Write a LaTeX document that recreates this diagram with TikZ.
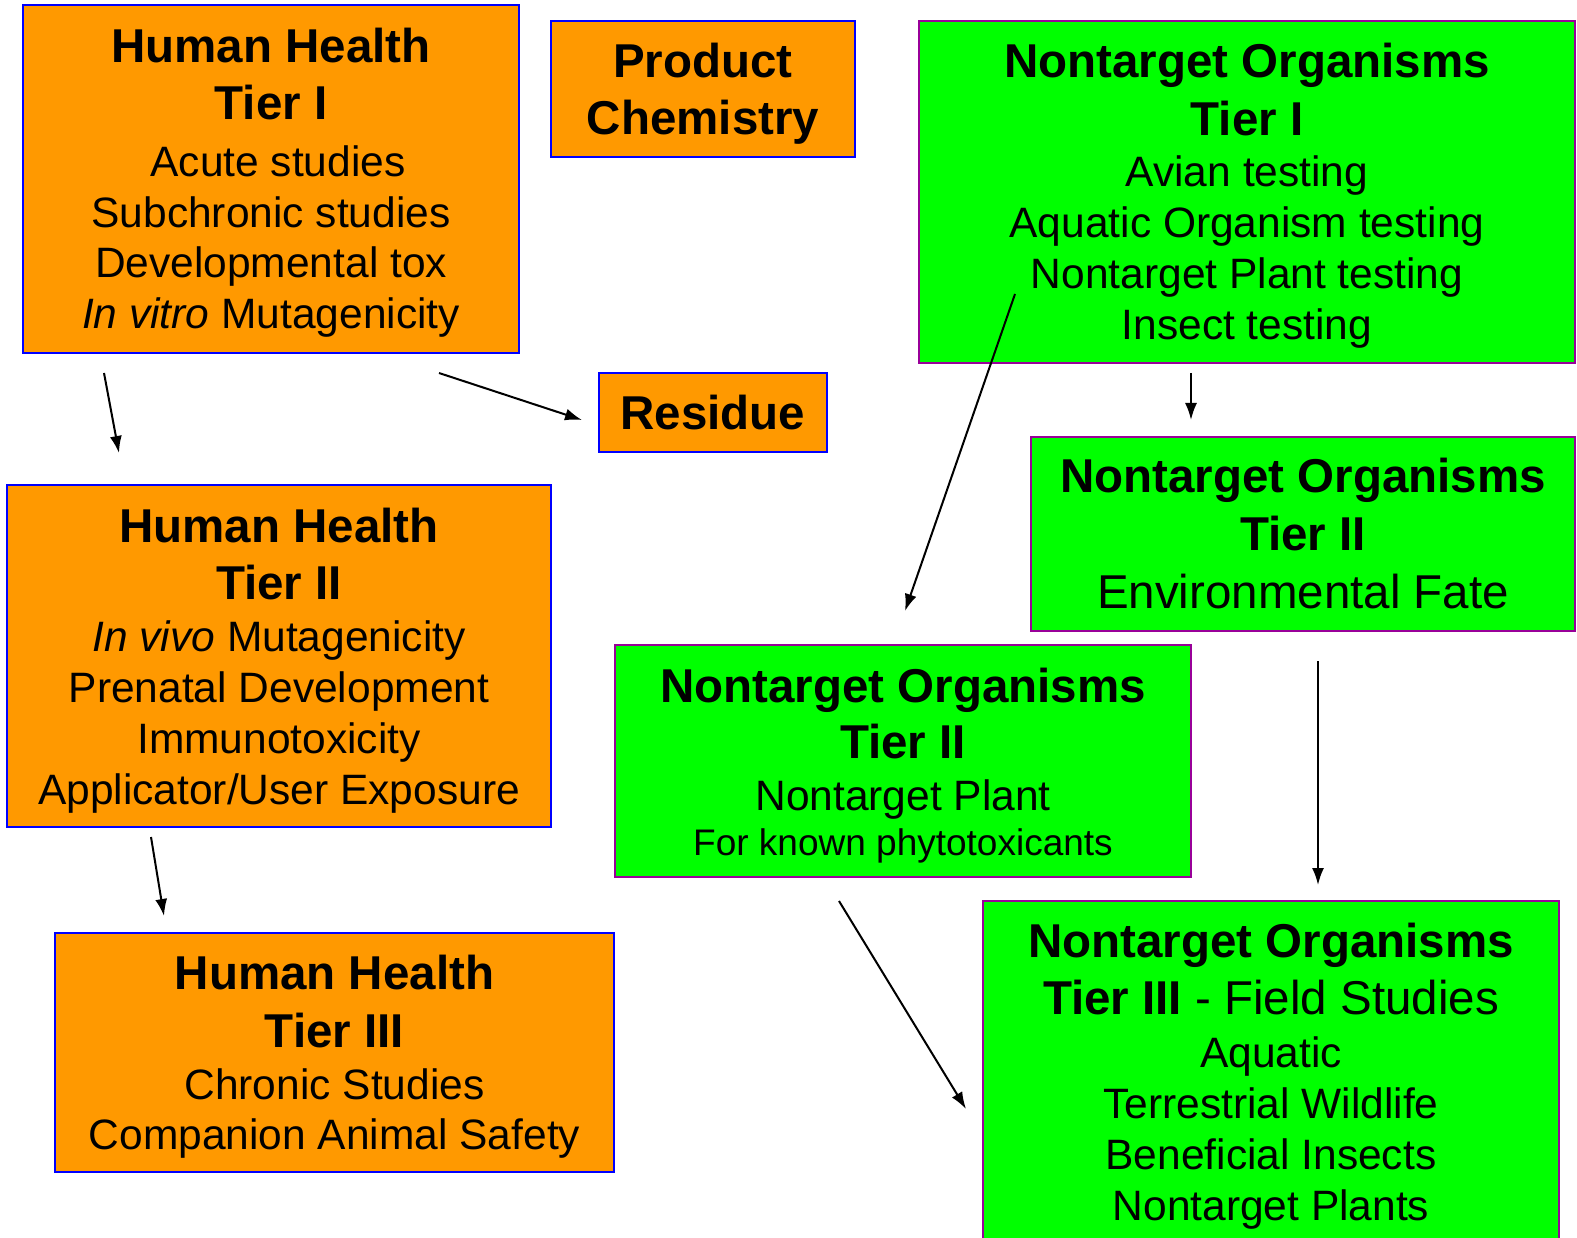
\documentclass[tikz,border=0pt]{standalone}
\usepackage{fontspec}
\setmainfont{Liberation Sans}
\usetikzlibrary{arrows.meta}
\definecolor{orng}{HTML}{FF9900}
\definecolor{grn}{HTML}{00FF00}
\definecolor{purp}{HTML}{990099}
\tikzset{
  obox/.style={draw=blue, fill=orng, line width=2pt, inner sep=0pt},
  gbox/.style={draw=purp, fill=grn, line width=2pt, inner sep=0pt},
  tl/.style={anchor=base, inner sep=0pt, font=\fontsize{47.5}{57}\selectfont\bfseries},
  bl/.style={anchor=base, inner sep=0pt, font=\fontsize{42.5}{51}\selectfont},
  sl/.style={anchor=base, inner sep=0pt, font=\fontsize{37}{45}\selectfont},
  arr/.style={-{Latex[length=17pt,width=12pt]}, line width=2pt}
}
\begin{document}
\begin{tikzpicture}[x=1pt,y=-1pt]
\useasboundingbox (0,0) rectangle (1577,1238);
% boxes
\node[obox, minimum width=496pt, minimum height=348pt] (hh1) at (271,179) {};
\node[obox, minimum width=304pt, minimum height=136pt] (pc) at (703,89) {};
\node[obox, minimum width=228pt, minimum height=79pt] (res) at (713,412.5) {};
\node[gbox, minimum width=656pt, minimum height=342pt] (nto1) at (1247,192) {};
\node[obox, minimum width=544pt, minimum height=342pt] (hh2) at (279,656) {};
\node[gbox, minimum width=544pt, minimum height=194pt] (nto2e) at (1303,534) {};
\node[gbox, minimum width=576pt, minimum height=232pt] (nto2p) at (903,761) {};
\node[obox, minimum width=559pt, minimum height=239pt] (hh3) at (334.5,1052.5) {};
\node[gbox, minimum width=576pt, minimum height=344pt] (nto3) at (1271,1073) {};
% Human Health Tier I
\node[tl] (hh1a) at (271,63) {Human Health};
\node[tl] (hh1b) at (271,120) {Tier I};
\node[bl] (hh1c) at (278,177) {Acute studies};
\node[bl] (hh1d) at (271,228) {Subchronic studies};
\node[bl] (hh1e) at (271,278) {Developmental tox};
\node[bl] (hh1f) at (271,329) {\textit{In vitro} Mutagenicity};
% Product Chemistry
\node[tl] (pca) at (703,78) {Product};
\node[tl] (pcb) at (703,135) {Chemistry};
% Residue
\node[tl] (resa) at (713,429) {Residue};
% Nontarget Tier I
\node[tl] (n1a) at (1247,78) {Nontarget Organisms};
\node[tl] (n1b) at (1247,136) {Tier I};
\node[bl] (n1c) at (1247,187) {Avian testing};
\node[bl] (n1d) at (1247,238) {Aquatic Organism testing};
\node[bl] (n1e) at (1247,289) {Nontarget Plant testing};
\node[bl] (n1f) at (1247,340) {Insect testing};
% Human Health Tier II
\node[tl] (hh2a) at (279,542) {Human Health};
\node[tl] (hh2b) at (279,599) {Tier II};
\node[bl] (hh2c) at (279,651) {\textit{In vivo} Mutagenicity};
\node[bl] (hh2d) at (279,702) {Prenatal Development};
\node[bl] (hh2e) at (279,753) {Immunotoxicity};
\node[bl] (hh2f) at (279,804) {Applicator/User Exposure};
% Nontarget Tier II env
\node[tl] (n2ea) at (1303,492) {Nontarget Organisms};
\node[tl] (n2eb) at (1303,550) {Tier II};
\node[tl, font=\fontsize{47.5}{57}\selectfont] (n2ec) at (1303,608) {Environmental Fate};
% Nontarget Tier II plant
\node[tl] (n2pa) at (903,702) {Nontarget Organisms};
\node[tl] (n2pb) at (903,758) {Tier II};
\node[bl] (n2pc) at (903,810) {Nontarget Plant};
\node[sl] (n2pd) at (903,855) {For known phytotoxicants};
% Human Health Tier III
\node[tl] (hh3a) at (334.5,989) {Human Health};
\node[tl] (hh3b) at (334.5,1047) {Tier III};
\node[bl] (hh3c) at (334.5,1099) {Chronic Studies};
\node[bl] (hh3d) at (334.5,1149) {Companion Animal Safety};
% Nontarget Tier III
\node[tl] (n3a) at (1271,957) {Nontarget Organisms};
\node[tl] (n3b) at (1271,1014) {Tier III\mdseries{} - Field Studies};
\node[bl] (n3c) at (1271,1067) {Aquatic};
\node[bl] (n3d) at (1271,1118) {Terrestrial Wildlife};
\node[bl] (n3e) at (1271,1169) {Beneficial Insects};
\node[bl] (n3f) at (1271,1220) {Nontarget Plants};
% arrow end points
\coordinate (a1s) at (104,373); \coordinate (a1e) at (119,453);
\coordinate (a2s) at (439,373); \coordinate (a2e) at (582,420);
\coordinate (a3s) at (1015,294); \coordinate (a3e) at (905,611);
\coordinate (a4s) at (1191,373); \coordinate (a4e) at (1191,420);
\coordinate (a5s) at (151,837); \coordinate (a5e) at (164,916);
\coordinate (a6s) at (1318,661); \coordinate (a6e) at (1318,885);
\coordinate (a7s) at (839,901); \coordinate (a7e) at (966,1109);
\draw[arr] (a1s) -- (a1e);
\draw[arr] (a2s) -- (a2e);
\draw[arr] (a3s) -- (a3e);
\draw[arr] (a4s) -- (a4e);
\draw[arr] (a5s) -- (a5e);
\draw[arr] (a6s) -- (a6e);
\draw[arr] (a7s) -- (a7e);
\end{tikzpicture}
\end{document}
